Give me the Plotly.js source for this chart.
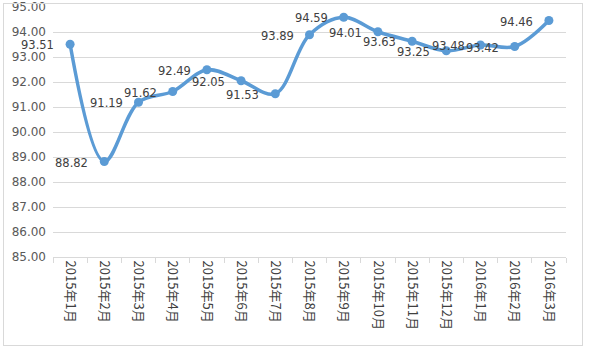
<!DOCTYPE html>
<html><head><meta charset="utf-8">
<script src="https://cdn.plot.ly/plotly-3.0.1.min.js"></script>
<style>html,body{margin:0;padding:0;background:#fff}#c{width:593px;height:352px}
#b{position:absolute;left:3px;top:3px;width:578px;height:341px;border:1px solid #d9d9d9;pointer-events:none}</style>
</head><body><div id="c"></div><div id="b"></div>
<script>
var categories = ["2015年1月","2015年2月","2015年3月","2015年4月","2015年5月","2015年6月","2015年7月","2015年8月","2015年9月","2015年10月","2015年11月","2015年12月","2016年1月","2016年2月","2016年3月"];
var values = [93.51,88.82,91.19,91.62,92.49,92.05,91.53,93.89,94.59,94.01,93.63,93.25,93.48,93.42,94.46];
var yTicks = [85,86,87,88,89,90,91,92,93,94,95];

var labels = categories.map(function(c, i){
  return {x: c, y: values[i], xref: 'x', yref: 'y', text: values[i].toFixed(2),
    showarrow: false, xanchor: 'right', yanchor: 'middle', xshift: -15, yshift: -1,
    borderpad: 0, font: {family: 'DejaVu Sans', size: 11.5, color: '#404040'}};
});

Plotly.newPlot('c', [{
  x: categories, y: values, type: 'scatter', mode: 'lines+markers',
  line: {color: '#5B9BD5', width: 3.5, shape: 'spline', smoothing: 1},
  marker: {color: '#5B9BD5', size: 9},
  cliponaxis: false, hoverinfo: 'none'
}], {
  width: 593, height: 352,
  margin: {l: 53, r: 27, t: 7, b: 95, pad: 0},
  paper_bgcolor: '#fff', plot_bgcolor: '#fff',
  showlegend: false,
  annotations: labels,
  xaxis: {
    type: 'category', range: [-0.5, categories.length - 0.5],
    tickangle: 90, showgrid: false, automargin: false,
    showline: true, linecolor: '#d9d9d9', linewidth: 1,
    ticks: 'outside', tickson: 'boundaries', ticklen: 5, tickcolor: '#d9d9d9',
    tickfont: {family: 'Noto Sans CJK SC', size: 13, color: '#404040'},
    zeroline: false, fixedrange: true
  },
  yaxis: {
    range: [85, 95], tickvals: yTicks, tickformat: '.2f', automargin: false,
    showgrid: true, gridcolor: '#d9d9d9', gridwidth: 1,
    zeroline: false, showline: false, ticks: '', ticklabelstandoff: 6,
    tickfont: {family: 'DejaVu Sans', size: 12, color: '#595959'},
    fixedrange: true
  }
}, {staticPlot: true});
</script></body></html>
